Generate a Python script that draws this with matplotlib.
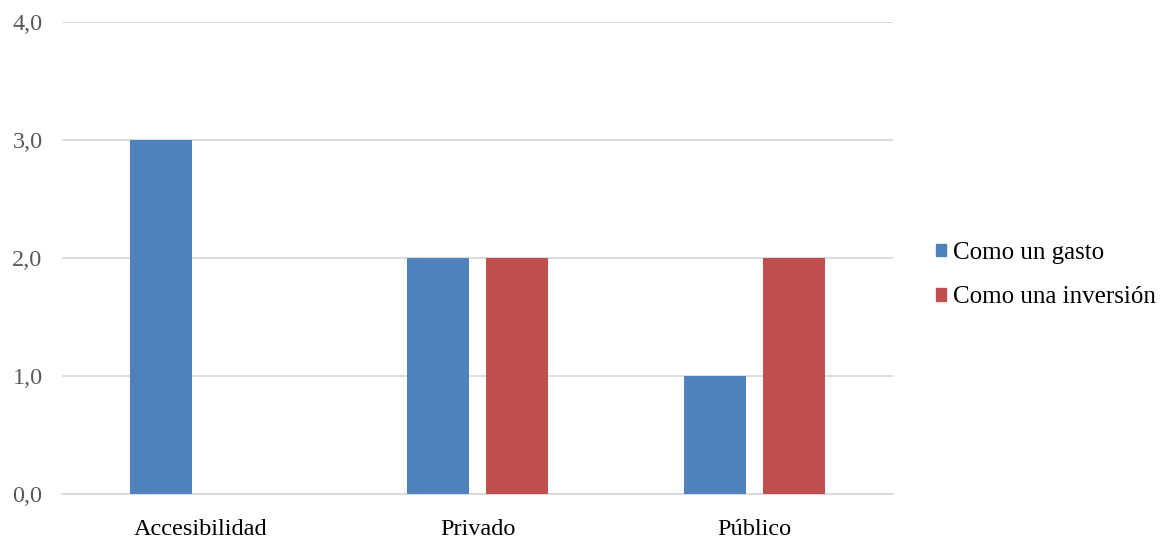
import numpy as np
import matplotlib.pyplot as plt
from matplotlib.patches import Patch

# datos del gráfico
categorias = ['Accesibilidad', 'Privado', 'Público']
como_gasto = [3, 2, 1]
como_inversion = [0, 2, 2]
series = ['Como un gasto', 'Como una inversión']
colores = ['#4F81BD', '#C0504D']
yticks = [0, 1, 2, 3, 4]

plt.rcParams['font.family'] = ['Liberation Serif', 'DejaVu Serif']

fig = plt.figure(figsize=(11.64, 5.38), dpi=100)
ax = fig.add_axes([62 / 1164, 1 - 494 / 538, (893 - 62) / 1164, (494 - 22) / 538])

x = np.arange(len(categorias))
ancho = 0.224
desp = 0.141
ax.bar(x - desp, como_gasto, ancho, color=colores[0], zorder=3)
ax.bar(x + desp, como_inversion, ancho, color=colores[1], zorder=3)

ax.set_xlim(-0.5, len(categorias) - 0.5)
ax.set_ylim(0, 4)
ax.set_yticks(yticks)
ax.set_yticklabels([f'{v:.1f}'.replace('.', ',') for v in yticks])
ax.set_xticks(x)
ax.set_xticklabels(categorias)

ax.grid(axis='y', color='#D9D9D9', linewidth=1.3, zorder=0)
for s in ['top', 'right', 'left']:
    ax.spines[s].set_visible(False)
ax.spines['bottom'].set_color('#D9D9D9')
ax.spines['bottom'].set_linewidth(1.3)
ax.tick_params(axis='both', length=0, labelsize=17.5, labelcolor='#595959')
ax.tick_params(axis='y', pad=14)
ax.tick_params(axis='x', pad=18, labelcolor='black')

handles = [Patch(color=c, label=l) for c, l in zip(colores, series)]
fig.legend(handles=handles, loc='center left', bbox_to_anchor=(926 / 1164, 1 - 275 / 538),
           frameon=False, fontsize=18, handlelength=0.4, handleheight=0.4,
           handletextpad=0.3, labelspacing=0.9, borderaxespad=0)

fig.savefig('out.png', dpi=100)
